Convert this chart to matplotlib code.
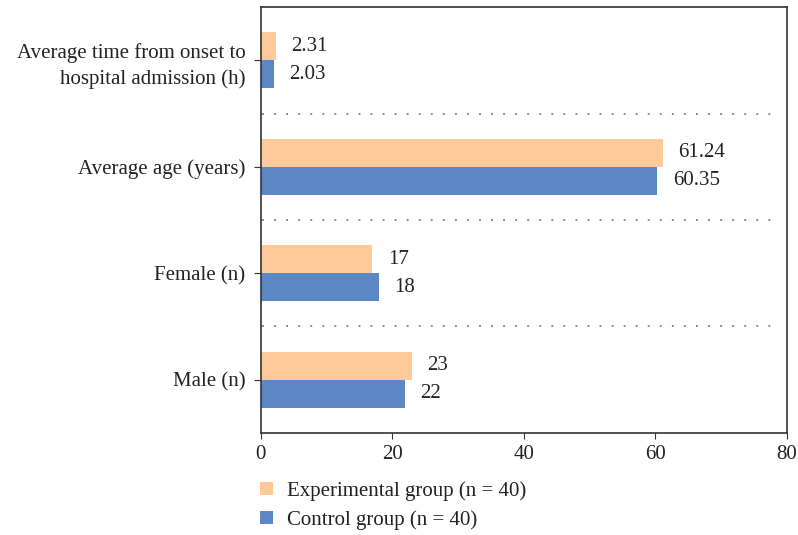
import numpy as np
import matplotlib.pyplot as plt

plt.rcParams['font.family'] = ['Liberation Serif', 'DejaVu Serif']

categories = ["Male (n)", "Female (n)", "Average age (years)",
              "Average time from onset to\nhospital admission (h)"]
experimental = [23, 17, 61.24, 2.31]
control = [22, 18, 60.35, 2.03]
exp_labels = ["23", "17", "61.24", "2.31"]
ctl_labels = ["22", "18", "60.35", "2.03"]

ORANGE = "#FFCA99"
BLUE = "#5B87C4"
INK = "#222222"
FS = 15

fig = plt.figure(figsize=(7.98, 5.35), dpi=100)
ax = fig.add_axes([0.3267, 0.1912, 0.9858 - 0.3267, 0.9864 - 0.1912])

y = np.arange(len(categories))
h = 0.263
b_exp = ax.barh(y + h / 2, experimental, height=h, color=ORANGE,
                label="Experimental group (n = 40)")
b_ctl = ax.barh(y - h / 2, control, height=h, color=BLUE,
                label="Control group (n = 40)")

ax.bar_label(b_exp, labels=exp_labels, padding=11, fontsize=FS, color=INK)
ax.bar_label(b_ctl, labels=ctl_labels, padding=11, fontsize=FS, color=INK)

# dotted separators between the groups
for sep in y[:-1] + 0.5:
    ax.axhline(sep, xmin=0.002, xmax=0.984, color="#8c8c8c", linewidth=1.4,
               linestyle=(0, (1, 5.2)))

ax.set_xlim(0, 80)
ax.set_ylim(-0.5, len(categories) - 0.5)
ax.set_xticks([0, 20, 40, 60, 80])
ax.set_yticks(y)
ax.set_yticklabels(categories, fontsize=FS, color=INK, linespacing=1.4)
ax.tick_params(axis="x", labelsize=FS, labelcolor=INK, length=4,
               color="#333333", pad=5)
ax.tick_params(axis="y", length=5, color="#333333", pad=6)
for s in ax.spines.values():
    s.set_color("#333333")
    s.set_linewidth(1.2)

ax.legend(loc="upper left", bbox_to_anchor=(-0.001, -0.114), frameon=False,
          fontsize=FS, handlelength=0.62, handleheight=0.62,
          handletextpad=0.65, labelspacing=0.45, borderaxespad=0,
          borderpad=0, labelcolor=INK)

fig.savefig("out.png", dpi=100)
